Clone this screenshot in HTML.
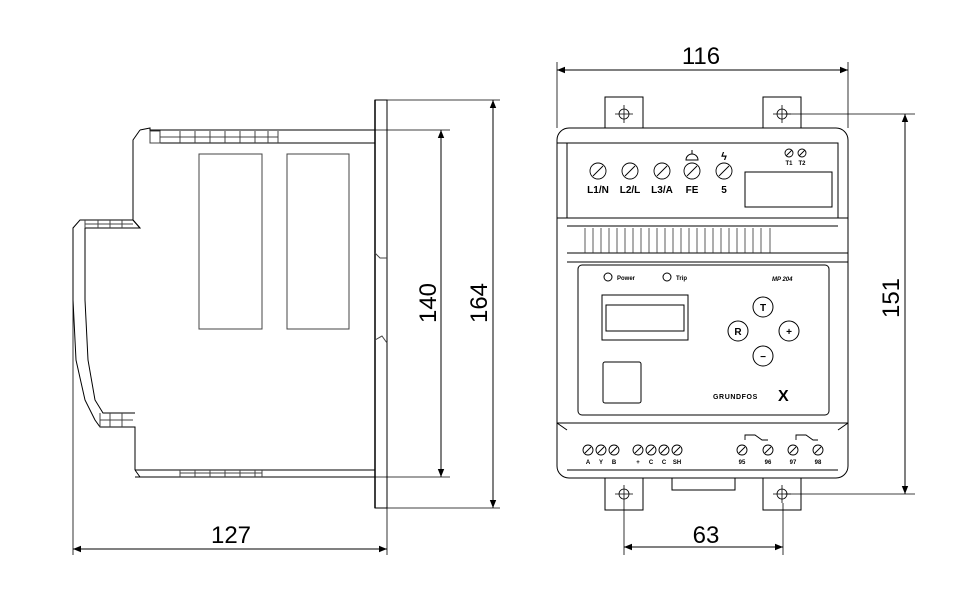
<!DOCTYPE html>
<html><head><style>body{margin:0;background:#fff}svg{display:block}</style></head><body>
<svg width="976" height="600" viewBox="0 0 976 600" xmlns="http://www.w3.org/2000/svg" font-family="Liberation Sans, sans-serif">
<defs>
<marker id="a" viewBox="0 0 10 10" refX="10" refY="5" markerWidth="12" markerHeight="8" orient="auto-start-reverse" markerUnits="userSpaceOnUse"><path d="M0,1 L10,5 L0,9 z" fill="#000"/></marker>
</defs>
<g fill="none" stroke="#000" stroke-width="1">
<rect x="375" y="100" width="12" height="408"/>
<line x1="375" y1="100" x2="375" y2="508" stroke-width="1.5"/>
<path d="M150,130 L375,130 M150,143 L375,143"/>
<path d="M140,130 L150,128 L150,143 M140,130 L133,140 L133,220 L140,228"/>
<path d="M133,220 L80,220 L73,228 L73,300 L76,360 L85,400 L95,420 L100,427 L135,427 L135,470"/>
<path d="M85,228 L85,300 L88,360 L95,400 L103,413 L135,413"/>
<path d="M80,220 L133,220 L140,228 L85,228"/>
<path d="M135,470 L375,470 M135,477 L375,477 M135,470 L140,477"/>
<g stroke="#444">
<rect x="150" y="131" width="10" height="12"/>
<path d="M180,131 v12 M195,131 v12 M210,131 v12 M225,131 v12 M240,131 v12 M255,131 v12 M268,131 v12 M278,131 v12"/>
<path d="M180,137 H278 M160,137 H180"/>
<path d="M85,220 v8 M98,220 v8 M110,220 v8 M122,220 v8 M85,224 H133"/>
<path d="M100,413 v14 M110,413 v14 M122,413 v14 M100,420 H133"/>
<path d="M180,470 v7 M195,470 v7 M210,470 v7 M225,470 v7 M240,470 v7 M255,470 v7 M262,470 v7 M180,473 H262"/>
<rect x="199" y="154" width="63" height="175"/>
<rect x="287" y="154" width="62" height="175"/>
<path d="M375,253 L380,258 L387,258 M375,340 L382,336 L387,343"/>
</g>
<line x1="73" y1="300" x2="73" y2="555" stroke-width="0.8"/>
<line x1="387" y1="508" x2="387" y2="555" stroke-width="0.8"/>
<line x1="73" y1="549" x2="387" y2="549" marker-start="url(#a)" marker-end="url(#a)"/>
<line x1="375" y1="130" x2="450" y2="130" stroke-width="0.8"/>
<line x1="375" y1="477" x2="450" y2="477" stroke-width="0.8"/>
<line x1="441" y1="130" x2="441" y2="477" marker-start="url(#a)" marker-end="url(#a)"/>
<line x1="387" y1="100" x2="500" y2="100" stroke-width="0.8"/>
<line x1="387" y1="508" x2="500" y2="508" stroke-width="0.8"/>
<line x1="493" y1="100" x2="493" y2="508" marker-start="url(#a)" marker-end="url(#a)"/>

<path d="M605,128 V97 H643 V128 M763,128 V97 H801 V128"/>
<path d="M605,478 V510 H643 V478 M763,478 V510 H801 V478"/>
<g stroke-width="0.8"><circle cx="624" cy="114" r="5"/><circle cx="782" cy="114" r="5"/><circle cx="624" cy="494" r="5"/><circle cx="782" cy="494" r="5"/>
<path d="M615,114 h18 M624,105 v18 M773,114 h18 M782,105 v18 M615,494 h18 M624,485 v18 M773,494 h18 M782,485 v18"/></g>
<rect x="557" y="128" width="291" height="350" rx="12"/>
<rect x="567" y="143" width="271" height="75"/>
<path d="M557,218 H848 M567,226 H838 M567,253 H848 M567,262 H848 M557,423 H848 M567,470 H838"/>
<path d="M557,143 L567,143 M557,423 L567,430 M848,423 L838,430"/>
<g stroke="#333" stroke-width="0.8">
<path d="M585,228 v25 M593,228 v25 M601,228 v25 M609,228 v25 M617,228 v25 M625,228 v25 M633,228 v25 M641,228 v25 M649,228 v25 M657,228 v25 M665,228 v25 M673,228 v25 M681,228 v25 M689,228 v25 M697,228 v25 M705,228 v25 M713,228 v25 M721,228 v25 M729,228 v25 M737,228 v25 M745,228 v25 M753,228 v25 M761,228 v25 M770,228 v25"/>
</g>
<rect x="578" y="265" width="251" height="150" rx="4"/>
<rect x="602" y="295" width="86" height="45"/>
<rect x="606" y="305" width="78" height="26"/>
<rect x="603" y="362" width="38" height="41" rx="2"/>
<rect x="745" y="172" width="87" height="35"/>
<path d="M672,478 V490 H735 V478"/>
<g stroke-width="1"><circle cx="608" cy="277" r="4"/><circle cx="667" cy="277" r="4"/>
<circle cx="763" cy="307" r="10"/><circle cx="738" cy="331" r="10"/><circle cx="789" cy="331" r="10"/><circle cx="763" cy="356" r="10"/></g>
<g stroke-width="0.9">
<circle cx="598" cy="171" r="8"/><circle cx="630" cy="171" r="8"/><circle cx="662" cy="171" r="8"/><circle cx="692" cy="171" r="8"/><circle cx="724" cy="171" r="8"/>
<path d="M593,176 l10,-10 M625,176 l10,-10 M657,176 l10,-10 M687,176 l10,-10 M719,176 l10,-10"/>
<circle cx="789" cy="153" r="4"/><circle cx="802" cy="153" r="4"/>
<path d="M786,156 l6,-6 M799,156 l6,-6"/>
</g>
<g stroke-width="0.9">
<circle cx="588" cy="450" r="5"/><circle cx="601" cy="450" r="5"/><circle cx="614" cy="450" r="5"/>
<circle cx="638" cy="450" r="5"/><circle cx="651" cy="450" r="5"/><circle cx="664" cy="450" r="5"/><circle cx="677" cy="450" r="5"/>
<circle cx="742" cy="450" r="5"/><circle cx="768" cy="450" r="5"/><circle cx="793" cy="450" r="5"/><circle cx="818" cy="450" r="5"/>
<path d="M585,453 l6,-6 M598,453 l6,-6 M611,453 l6,-6 M635,453 l6,-6 M648,453 l6,-6 M661,453 l6,-6 M674,453 l6,-6 M739,453 l6,-6 M765,453 l6,-6 M790,453 l6,-6 M815,453 l6,-6"/>
<path d="M745,440 V435 H755 L762,440 H768 M796,440 V435 H806 L813,440 H818"/>
</g>
<path d="M686,160 a6,6 0 0 1 12,0 z M692,150 v4"/>
<g stroke-width="0.8">
<line x1="557" y1="62" x2="557" y2="128"/><line x1="848" y1="62" x2="848" y2="128"/>
<line x1="785" y1="114" x2="915" y2="114"/><line x1="785" y1="494" x2="915" y2="494"/>
<line x1="624" y1="503" x2="624" y2="555"/><line x1="783" y1="503" x2="783" y2="555"/>
</g>
<line x1="557" y1="70" x2="848" y2="70" marker-start="url(#a)" marker-end="url(#a)"/>
<line x1="905" y1="114" x2="905" y2="494" marker-start="url(#a)" marker-end="url(#a)"/>
<line x1="624" y1="547" x2="783" y2="547" marker-start="url(#a)" marker-end="url(#a)"/>
</g>
<g font-size="24" fill="#000" text-anchor="middle">
<text x="231" y="543">127</text>
<text x="706" y="543">63</text>
<text x="701" y="64">116</text>
<text transform="translate(436,303) rotate(-90)">140</text>
<text transform="translate(487,303) rotate(-90)">164</text>
<text transform="translate(899,298) rotate(-90)">151</text>
</g>
<g font-size="10" font-weight="bold" fill="#000" text-anchor="middle">
<text x="598" y="193">L1/N</text><text x="630" y="193">L2/L</text><text x="662" y="193">L3/A</text><text x="692" y="193">FE</text><text x="724" y="193">5</text>
<text x="724" y="160" font-size="11">ϟ</text>
</g>
<g font-size="6" font-weight="bold" fill="#000" text-anchor="middle">
<text x="789" y="165">T1</text><text x="802" y="165">T2</text>
<text x="588" y="464">A</text><text x="601" y="464">Y</text><text x="614" y="464">B</text>
<text x="638" y="464">+</text><text x="651" y="464">C</text><text x="664" y="464">C</text><text x="677" y="464">SH</text>
<text x="742" y="464">95</text><text x="768" y="464">96</text><text x="793" y="464">97</text><text x="818" y="464">98</text>
</g>
<g font-size="6" font-weight="bold" fill="#000">
<text x="617" y="280">Power</text>
<text x="676" y="280">Trip</text>
<text x="772" y="281" font-style="italic">MP 204</text>
<text x="713" y="399" font-size="7" letter-spacing="0.6">GRUNDFOS</text>
</g>
<text x="778" y="401" font-size="16" font-weight="bold">X</text>
<g font-size="10" font-weight="bold" fill="#000" text-anchor="middle">
<text x="763" y="311">T</text><text x="738" y="335">R</text><text x="789" y="335">+</text><text x="763" y="360">−</text>
</g>
</svg>
</body></html>
